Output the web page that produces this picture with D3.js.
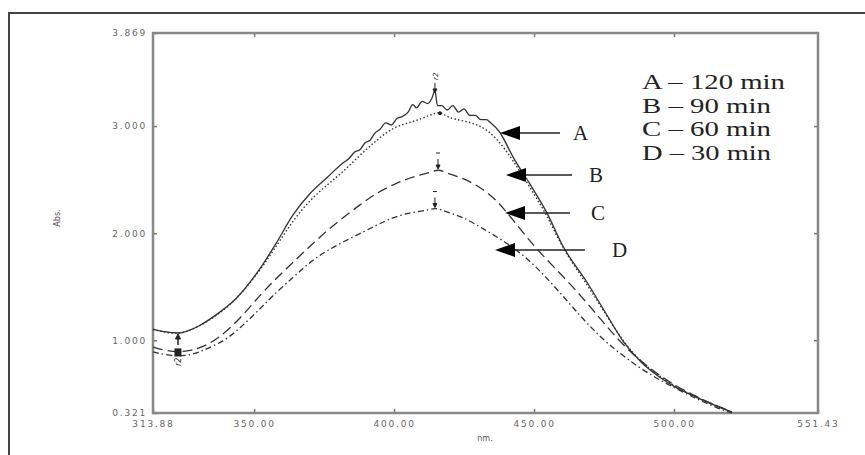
<!DOCTYPE html>
<html>
<head>
<meta charset="utf-8">
<script src="https://cdn.jsdelivr.net/npm/d3@7"></script>
<style>
  body { margin: 0; background: #fff; }
  .tick text { font: 9px "DejaVu Sans", sans-serif; fill: #666; letter-spacing: 1.8px; }
  .tick line { stroke: #777; stroke-width: 1.5; }
  .legend text { font-family: "Liberation Serif", "Times New Roman", serif; fill: #222; }
</style>
</head>
<body>
<div id="chart"></div>
<script>
// values, wavelength in nm, absorbance
const nmA  = [313.88, 318, 322.8, 326.5, 330.7, 336, 343.2, 352.1, 358.2, 363.9, 370.0, 376.1, 381.7, 384, 386, 387.8, 389.5, 391.5, 393, 395.0, 397, 399, 401, 403, 405, 406.7, 408, 410, 412, 413.5, 414.6, 415.5, 417, 419, 421, 423, 425, 427, 429, 431, 433, 434.5, 437.8, 442.5, 448.5, 454.6, 460.3, 469.2, 475.7, 482.1, 488.5, 494.9, 501, 507.8, 514, 520.7];
const absA = [1.105, 1.08, 1.068, 1.09, 1.14, 1.23, 1.38, 1.67, 1.92, 2.17, 2.37, 2.52, 2.655, 2.70, 2.76, 2.78, 2.84, 2.87, 2.93, 2.97, 3.03, 3.01, 3.07, 3.09, 3.13, 3.20, 3.17, 3.23, 3.21, 3.26, 3.33, 3.19, 3.19, 3.15, 3.19, 3.13, 3.16, 3.10, 3.10, 3.06, 3.06, 3.03, 2.94, 2.71, 2.46, 2.19, 1.88, 1.53, 1.25, 0.98, 0.79, 0.655, 0.555, 0.47, 0.40, 0.33];

const nmB  = [313.88, 318, 322.8, 326.5, 330.7, 336, 343.2, 352.1, 358.2, 363.9, 370.0, 376.0, 381.7, 387.8, 393.9, 399.6, 406.7, 412.8, 416.4, 418.9, 424.6, 430.7, 436.4, 442.5, 448.5, 454.6, 460.3, 469.2, 475.7, 482.1, 488.5, 494.9, 501, 507.8, 514, 520.7];
const absB = [1.10, 1.075, 1.06, 1.085, 1.135, 1.22, 1.365, 1.65, 1.89, 2.12, 2.31, 2.45, 2.57, 2.73, 2.87, 2.99, 3.04, 3.10, 3.14, 3.08, 3.05, 3.01, 2.90, 2.68, 2.43, 2.17, 1.85, 1.51, 1.24, 0.975, 0.79, 0.66, 0.56, 0.47, 0.40, 0.33];

const nmC  = [313.88, 318, 322.8, 326.5, 330.7, 336.7, 345.0, 352.0, 358.0, 364.0, 370.0, 378.0, 388.0, 394.0, 401.0, 407.0, 413.0, 415.7, 418.9, 424.6, 430.7, 436.7, 442.5, 451.0, 462.8, 473.2, 482.1, 494.9, 507.8, 520.7];
const absC = [0.937, 0.905, 0.891, 0.90, 0.928, 1.003, 1.20, 1.42, 1.58, 1.73, 1.88, 2.07, 2.27, 2.38, 2.47, 2.53, 2.565, 2.60, 2.56, 2.515, 2.431, 2.310, 2.123, 1.843, 1.535, 1.217, 0.937, 0.657, 0.470, 0.330];

const nmD  = [313.88, 318, 322.8, 326.5, 330.7, 340.0, 346.0, 352.0, 356.0, 364.0, 370.0, 376.0, 385.3, 393.9, 399.6, 406.7, 412.8, 414.6, 418.9, 424.6, 430.7, 444.8, 456.4, 466.7, 475.7, 488.5, 501.4, 514.2, 520.7];
const absD = [0.891, 0.865, 0.853, 0.86, 0.89, 1.00, 1.14, 1.29, 1.40, 1.59, 1.73, 1.84, 1.964, 2.076, 2.15, 2.198, 2.216, 2.24, 2.198, 2.151, 2.058, 1.843, 1.535, 1.217, 0.975, 0.72, 0.536, 0.377, 0.321];

const seriesNames = ["A", "B", "C", "D"];
const legendLabels = ["A \u2013 120 min", "B \u2013 90 min", "C \u2013 60 min", "D \u2013 30 min"];
const xTicks = [313.88, 350, 400, 450, 500, 551.43];
const yTicks = [0.321, 1, 2, 3, 3.869];
// peak-pick marks (nm, absorbance) at maxima and at the left minimum
const peakNm  = [414.6, 416.4, 415.7, 414.6];
const peakAbs = [3.30, 3.12, 2.59, 2.23];
const valleyNm = 322.8;
const valleyAbs = [1.068, 0.891];

const width = 865, height = 455;
const margin = { top: 33, right: 47, bottom: 42, left: 153 };

const svg = d3.select("#chart").append("svg")
    .attr("width", width)
    .attr("height", height);

// outer picture frame
svg.append("path")
    .attr("d", "M9," + (height + 5) + " V13 H" + (width + 5))
    .attr("fill", "none")
    .attr("stroke", "#444")
    .attr("stroke-width", 2);

const x = d3.scaleLinear()
    .domain([313.88, 551.43])
    .range([margin.left, width - margin.right]);

const y = d3.scaleLinear()
    .domain([0.321, 3.869])
    .range([height - margin.bottom, margin.top]);

const fmtY = d3.format(".3f"), fmtX = d3.format(".2f");

// ticks on all four sides, pointing inward
svg.append("g")
    .attr("transform", "translate(" + margin.left + ",0)")
    .call(d3.axisLeft(y).tickValues(yTicks).tickFormat(fmtY).tickSize(-4).tickPadding(6))
    .call(g => g.select(".domain").remove());

svg.append("g")
    .attr("transform", "translate(0," + (height - margin.bottom) + ")")
    .call(d3.axisBottom(x).tickValues(xTicks).tickFormat(fmtX).tickSize(-4).tickPadding(8))
    .call(g => g.select(".domain").remove());

svg.append("g")
    .attr("transform", "translate(" + (width - margin.right) + ",0)")
    .call(d3.axisRight(y).tickValues([1, 2, 3]).tickFormat("").tickSize(-4))
    .call(g => g.select(".domain").remove());

svg.append("g")
    .attr("transform", "translate(0," + margin.top + ")")
    .call(d3.axisTop(x).tickValues([350, 400, 450, 500]).tickFormat("").tickSize(-4))
    .call(g => g.select(".domain").remove());

svg.append("rect")
    .attr("x", margin.left)
    .attr("y", margin.top)
    .attr("width", width - margin.left - margin.right)
    .attr("height", height - margin.top - margin.bottom)
    .attr("fill", "none")
    .attr("stroke", "#888")
    .attr("stroke-width", 2.5);

svg.append("text")
    .attr("x", 485).attr("y", 441)
    .attr("text-anchor", "middle")
    .style("font", "8px 'DejaVu Sans', sans-serif")
    .style("fill", "#555")
    .text("nm.");

svg.append("text")
    .attr("transform", "translate(60,218) rotate(-90)")
    .attr("text-anchor", "middle")
    .style("font", "8px 'DejaVu Sans', sans-serif")
    .style("fill", "#555")
    .text("Abs.");

// spectra (A keeps its noise, the others are smooth)
const spectra = [
    { name: "A", nm: nmA, abs: absA, dash: null, w: 1.3, curve: d3.curveMonotoneX },
    { name: "B", nm: nmB, abs: absB, dash: "1.5,2.2", w: 1.4, curve: d3.curveBasis },
    { name: "C", nm: nmC, abs: absC, dash: "10,5", w: 1.3, curve: d3.curveBasis },
    { name: "D", nm: nmD, abs: absD, dash: "6,3,1.5,3", w: 1.3, curve: d3.curveBasis }
];

svg.append("g").selectAll("path")
    .data(spectra)
    .join("path")
        .attr("d", s => d3.line()
            .x(d => x(d[0]))
            .y(d => y(d[1]))
            .curve(s.curve)(d3.zip(s.nm, s.abs)))
        .attr("fill", "none")
        .attr("stroke", "#333")
        .attr("stroke-width", s => s.w)
        .attr("stroke-dasharray", s => s.dash);

// peak markers: short dash and small down arrow
const marks = svg.append("g").attr("stroke", "#222").attr("fill", "#222");
peakNm.forEach((n, i) => {
    const px = x(n), py = y(peakAbs[i]);
    if (i === 1) {
        marks.append("circle").attr("cx", px).attr("cy", py).attr("r", 1.5);
        return;
    }
    marks.append("line")
        .attr("x1", px).attr("x2", px)
        .attr("y1", py - 11).attr("y2", py - 3)
        .attr("stroke-width", 1);
    marks.append("path")
        .attr("d", "M" + (px - 2) + "," + (py - 5) + " L" + (px + 2) + "," + (py - 5) + " L" + px + "," + (py - 1) + "Z");
    if (i === 0) {
        marks.append("text")
            .attr("transform", "translate(" + (px + 3) + "," + (py - 14) + ") rotate(-90)")
            .attr("stroke", "none")
            .style("font", "italic 7px 'DejaVu Sans', sans-serif")
            .text("r2");
    } else {
        marks.append("line")
            .attr("x1", px - 2).attr("x2", px + 2)
            .attr("y1", py - 17).attr("y2", py - 17)
            .attr("stroke-width", 1);
    }
});

// left minimum markers
const vx = x(valleyNm);
marks.append("path")
    .attr("d", "M" + (vx - 2.5) + "," + (y(valleyAbs[0]) + 6) + " L" + (vx + 2.5) + "," + (y(valleyAbs[0]) + 6) + " L" + vx + "," + (y(valleyAbs[0]) + 1) + "Z");
marks.append("line")
    .attr("x1", vx).attr("x2", vx)
    .attr("y1", y(valleyAbs[0]) + 4).attr("y2", y(valleyAbs[0]) + 12)
    .attr("stroke-width", 1.5);
marks.append("rect")
    .attr("x", vx - 3).attr("y", y(valleyAbs[1]) - 3)
    .attr("width", 6).attr("height", 7);
marks.append("text")
    .attr("transform", "translate(" + (vx + 3) + "," + (y(valleyAbs[1]) + 14) + ") rotate(-90)")
    .attr("stroke", "none")
    .style("font", "italic 8px 'DejaVu Sans', sans-serif")
    .text("r2");

// legend in the upper right
const legend = svg.append("g").attr("class", "legend");
legend.selectAll("text")
    .data(legendLabels)
    .join("text")
        .attr("x", 642)
        .attr("y", (d, i) => 89 + i * 23.5)
        .attr("font-size", 21)
        .attr("textLength", (d, i) => i === 0 ? 143 : 129)
        .attr("lengthAdjust", "spacingAndGlyphs")
        .text(d => d);

// arrows pointing at the curves
const arrowTip = [500, 506, 505, 495];
const arrowY = [133, 175, 213, 250];
const arrowEnd = [560, 572, 570, 585];
const letterX = [573, 589, 591, 612];

const arrows = svg.append("g");
seriesNames.forEach((n, i) => {
    const ty = arrowY[i], tx = arrowTip[i];
    arrows.append("line")
        .attr("x1", tx + 15).attr("x2", arrowEnd[i])
        .attr("y1", ty).attr("y2", ty)
        .attr("stroke", "#222").attr("stroke-width", 1.6);
    arrows.append("path")
        .attr("d", "M" + tx + "," + ty + " L" + (tx + 20) + "," + (ty - 7) + " L" + (tx + 20) + "," + (ty + 7) + "Z")
        .attr("fill", "#000");
    arrows.append("text")
        .attr("x", letterX[i])
        .attr("y", ty + 7)
        .attr("font-size", 21)
        .style("font-family", "'Liberation Serif', serif")
        .style("fill", "#222")
        .text(n);
});
</script>
</body>
</html>
